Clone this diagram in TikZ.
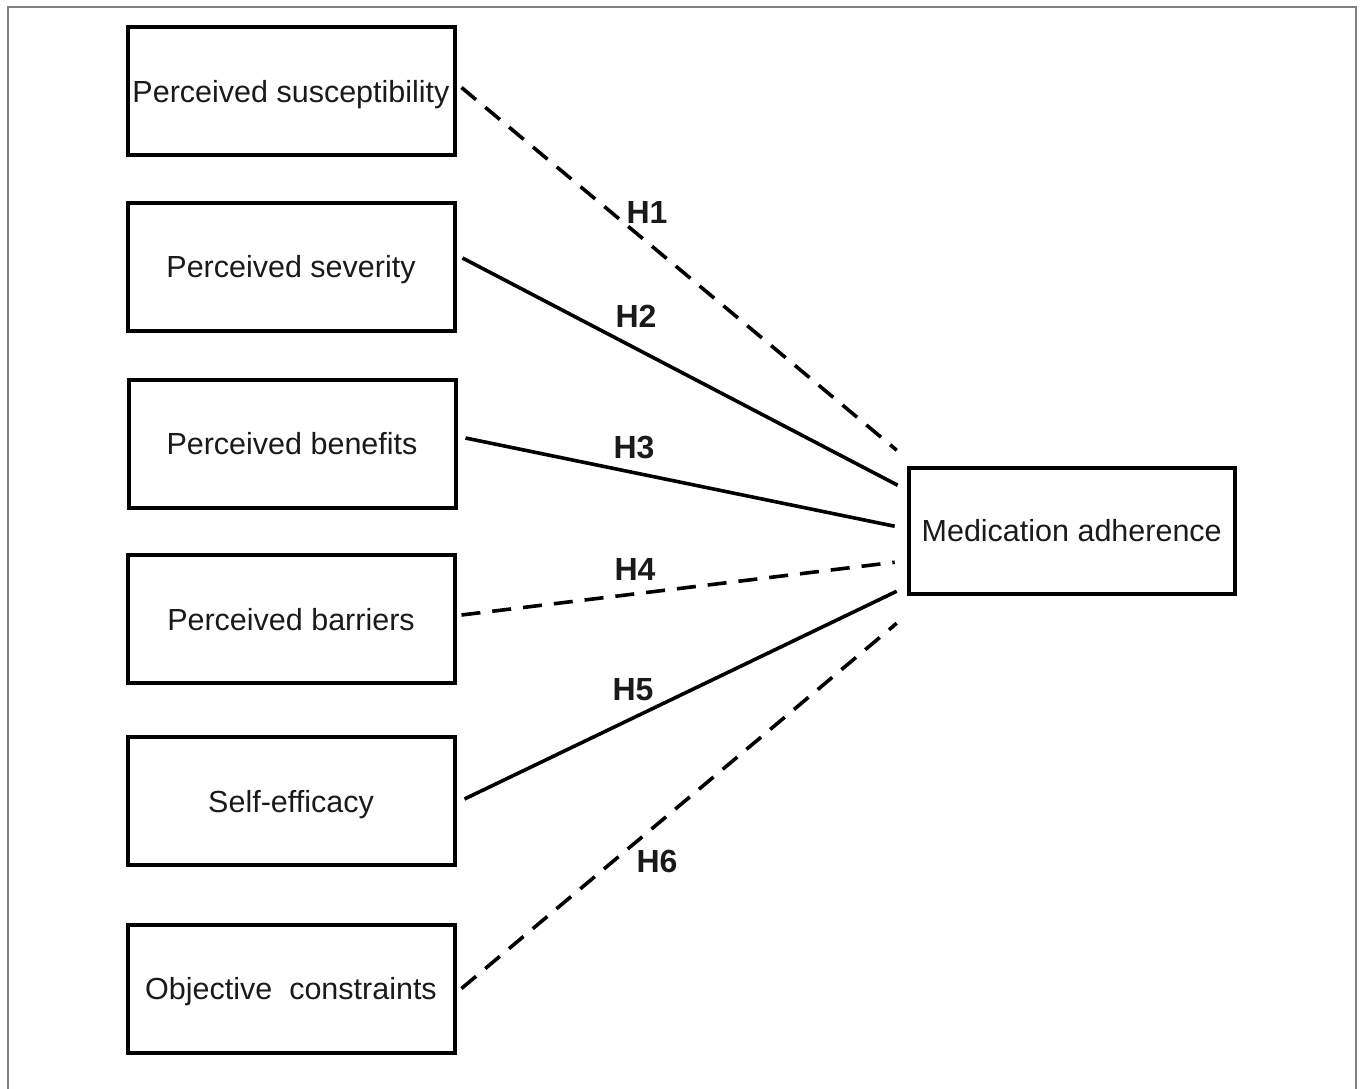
\documentclass[tikz,border=0pt]{standalone}
\usepackage{fontspec}
\setmainfont{Liberation Sans}
\definecolor{ink}{HTML}{1A1A1A}
\definecolor{framegray}{HTML}{808080}
\tikzset{
  factor/.style={draw=black, line width=4pt, rectangle, minimum width=327pt, minimum height=128pt, inner sep=0pt, text=ink, text height=22pt, text depth=0pt, font=\fontsize{30.5}{36}\selectfont},
  hlabel/.style={inner sep=0pt, text=ink, font=\fontsize{32}{36}\selectfont\bfseries},
  solidlink/.style={line width=3.6pt, black},
  dashlink/.style={line width=3.6pt, black, dash pattern=on 19pt off 12pt}
}
\begin{document}
\begin{tikzpicture}[x=1pt,y=-1pt]
\useasboundingbox (0,0) rectangle (1360,1089);
\draw[framegray, line width=2pt] (8,1089) -- (8,7) -- (1355.5,7) -- (1355.5,1089);

\node[factor] (ps) at (291,91.5) {Perceived susceptibility};
\node[factor] (sev) at (291,266.5) {Perceived severity};
\node[factor] (ben) at (292,443.5) {Perceived benefits};
\node[factor] (bar) at (291,619) {Perceived barriers};
\node[factor] (se) at (291,801) {Self-efficacy};
\node[factor] (oc) at (291,988.5) {Objective\ \ constraints};
\node[factor, minimum width=326pt, minimum height=126.5pt] (ma) at (1071.7,530.75) {Medication adherence};

\draw[dashlink] ([xshift=5pt,yshift=4pt]ps.east) -- ([xshift=-10pt,yshift=80.5pt]ma.west);
\draw[solidlink] ([xshift=6pt,yshift=8.5pt]sev.east) -- ([xshift=-9pt,yshift=45.5pt]ma.west);
\draw[solidlink] ([xshift=8pt,yshift=5.5pt]ben.east) -- ([xshift=-12pt,yshift=4.5pt]ma.west);
\draw[dashlink] ([xshift=5pt,yshift=4pt]bar.east) -- ([xshift=-12pt,yshift=-31.5pt]ma.west);
\draw[solidlink] ([xshift=8pt,yshift=2pt]se.east) -- ([xshift=-10pt,yshift=-60.5pt]ma.west);
\draw[dashlink] ([xshift=5pt,yshift=0pt]oc.east) -- ([xshift=-10pt,yshift=-92.5pt]ma.west);

\node[hlabel] (h1) at (647,212) {H1};
\node[hlabel] (h2) at (636,316) {H2};
\node[hlabel] (h3) at (634,447.5) {H3};
\node[hlabel] (h4) at (635,569) {H4};
\node[hlabel] (h5) at (633,690) {H5};
\node[hlabel] (h6) at (657,861.5) {H6};
\end{tikzpicture}
\end{document}
